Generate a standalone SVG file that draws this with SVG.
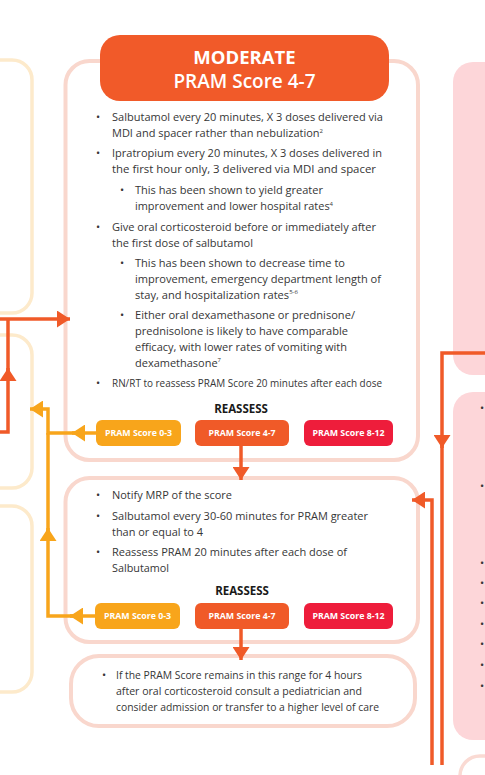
<svg xmlns="http://www.w3.org/2000/svg" width="485" height="775" viewBox="0 0 485 775">
<style>
.yb{fill:none;stroke:#FDEACB;stroke-width:3.5}
.pb{fill:#fff;stroke:#F9D7CD;stroke-width:4}
.pf{fill:#FDD6D9}
.t{font-family:"Open Sans","Liberation Sans",sans-serif;font-size:11px;fill:#363636}
.btn{font-family:"Open Sans","Liberation Sans",sans-serif;font-size:8.8px;font-weight:700;fill:#fff;text-anchor:middle}
.rs{font-family:"Open Sans","Liberation Sans",sans-serif;font-size:11.5px;font-weight:700;fill:#1a1a1a;text-anchor:middle}
.hd{font-family:"Open Sans","Liberation Sans",sans-serif;fill:#fff;text-anchor:middle}
.sup{font-size:6px}
.co{fill:none;stroke:#F05A28;stroke-width:3.5;stroke-linejoin:miter}
.cy{fill:none;stroke:#F8A51B;stroke-width:3.5;stroke-linejoin:miter}
</style>
<defs>
<marker id="ao" viewBox="0 0 13 17" refX="13" refY="8.5" markerWidth="13" markerHeight="17" markerUnits="userSpaceOnUse" orient="auto"><path d="M0,0 L13,8.5 L0,17 z" fill="#F05A28"/></marker>
<marker id="ay" viewBox="0 0 13 17" refX="13" refY="8.5" markerWidth="13" markerHeight="17" markerUnits="userSpaceOnUse" orient="auto"><path d="M0,0 L13,8.5 L0,17 z" fill="#F8A51B"/></marker>
</defs>
<rect width="485" height="775" fill="#fff"/>

<g id="left-boxes">
<rect class="yb" x="-40" y="60" width="72" height="253" rx="20"/>
<rect class="yb" x="-40" y="335" width="72" height="153" rx="20"/>
<rect class="yb" x="-40" y="506" width="72" height="186" rx="20"/>
</g>

<g id="right-boxes">
<rect class="pf" x="453" y="62" width="60" height="313" rx="20"/>
<rect class="pf" x="453" y="392" width="60" height="348" rx="20"/>
<rect x="460" y="756" width="60" height="60" rx="20" fill="none" stroke="#FADAD3" stroke-width="3.5"/>
<g class="t">
<text x="480" y="411.5">•</text>
<text x="480" y="489.5">•</text>
<text x="480" y="566.5">•</text>
<text x="480" y="586.5">•</text>
<text x="480" y="606.5">•</text>
<text x="480" y="627.5">•</text>
<text x="480" y="647.5">•</text>
<text x="480" y="668.5">•</text>
<text x="480" y="689.5">•</text>
</g>
</g>

<g id="box-moderate">
<rect class="pb" x="65.5" y="61" width="352.5" height="399" rx="24"/>
<g class="t" lengthAdjust="spacingAndGlyphs">
<text x="96" y="120.5">•</text><text x="112" y="120.5" textLength="271" lengthAdjust="spacingAndGlyphs">Salbutamol every 20 minutes, X 3 doses delivered via</text>
<text x="112" y="137" textLength="211" lengthAdjust="spacingAndGlyphs">MDI and spacer rather than nebulization<tspan class="sup" dy="-4.5">2</tspan></text>
<text x="96" y="157">•</text><text x="112" y="157" textLength="270" lengthAdjust="spacingAndGlyphs">Ipratropium every 20 minutes, X 3 doses delivered in</text>
<text x="112" y="173" textLength="264" lengthAdjust="spacingAndGlyphs">the first hour only, 3 delivered via MDI and spacer</text>
<text x="120" y="194">•</text><text x="135" y="194" textLength="188" lengthAdjust="spacingAndGlyphs">This has been shown to yield greater</text>
<text x="135" y="210" textLength="198" lengthAdjust="spacingAndGlyphs">improvement and lower hospital rates<tspan class="sup" dy="-4.5">4</tspan></text>
<text x="96" y="231">•</text><text x="112" y="231" textLength="264" lengthAdjust="spacingAndGlyphs">Give oral corticosteroid before or immediately after</text>
<text x="112" y="247" textLength="141" lengthAdjust="spacingAndGlyphs">the first dose of salbutamol</text>
<text x="120" y="267">•</text><text x="135" y="267" textLength="210" lengthAdjust="spacingAndGlyphs">This has been shown to decrease time to</text>
<text x="135" y="282.5" textLength="246" lengthAdjust="spacingAndGlyphs">improvement, emergency department length of</text>
<text x="135" y="298.5" textLength="163" lengthAdjust="spacingAndGlyphs">stay, and hospitalization rates<tspan class="sup" dy="-4.5">5-6</tspan></text>
<text x="120" y="319">•</text><text x="135" y="319" textLength="220" lengthAdjust="spacingAndGlyphs">Either oral dexamethasone or prednisone/</text>
<text x="135" y="335" textLength="213" lengthAdjust="spacingAndGlyphs">prednisolone is likely to have comparable</text>
<text x="135" y="351" textLength="212" lengthAdjust="spacingAndGlyphs">efficacy, with lower rates of vomiting with</text>
<text x="135" y="366.5" textLength="86" lengthAdjust="spacingAndGlyphs">dexamethasone<tspan class="sup" dy="-4.5">7</tspan></text>
<text x="96" y="387">•</text><text x="112" y="387" textLength="270" lengthAdjust="spacingAndGlyphs">RN/RT to reassess PRAM Score 20 minutes after each dose</text>
</g>
<text class="rs" x="241" y="412.5">REASSESS</text>
<rect x="96" y="420" width="85" height="26" rx="6" fill="#F8A51B"/>
<text class="btn" x="138.5" y="436.2">PRAM Score 0-3</text>
<rect x="195" y="420" width="94" height="26" rx="6" fill="#F05A28"/>
<text class="btn" x="242" y="436.2">PRAM Score 4-7</text>
<rect x="304" y="420" width="89" height="26" rx="6" fill="#EE1D3B"/>
<text class="btn" x="348.5" y="436.2">PRAM Score 8-12</text>
</g>

<g id="header">
<rect x="100" y="35" width="289" height="66" rx="20" fill="#F15A29"/>
<text class="hd" x="244.5" y="64.3" font-size="18.5" font-weight="700">MODERATE</text>
<text class="hd" x="244.5" y="88" font-size="19" font-weight="600">PRAM Score 4-7</text>
</g>

<g id="box-continue">
<rect class="pb" x="65.5" y="478" width="352.5" height="164" rx="24"/>
<g class="t">
<text x="96" y="499">•</text><text x="112" y="499" textLength="120" lengthAdjust="spacingAndGlyphs">Notify MRP of the score</text>
<text x="96" y="519.5">•</text><text x="112" y="519.5" textLength="256" lengthAdjust="spacingAndGlyphs">Salbutamol every 30-60 minutes for PRAM greater</text>
<text x="112" y="535.5" textLength="91" lengthAdjust="spacingAndGlyphs">than or equal to 4</text>
<text x="96" y="556">•</text><text x="112" y="556" textLength="235" lengthAdjust="spacingAndGlyphs">Reassess PRAM 20 minutes after each dose of</text>
<text x="112" y="572" textLength="57" lengthAdjust="spacingAndGlyphs">Salbutamol</text>
</g>
<text class="rs" x="242" y="595">REASSESS</text>
<rect x="95" y="603" width="85" height="26" rx="6" fill="#F8A51B"/>
<text class="btn" x="137.5" y="619.2">PRAM Score 0-3</text>
<rect x="195" y="603" width="94" height="26" rx="6" fill="#F05A28"/>
<text class="btn" x="242" y="619.2">PRAM Score 4-7</text>
<rect x="304" y="603" width="89" height="26" rx="6" fill="#EE1D3B"/>
<text class="btn" x="348.5" y="619.2">PRAM Score 8-12</text>
</g>

<g id="box-consult">
<rect class="pb" x="71" y="656" width="344" height="70" rx="28"/>
<g class="t">
<text x="102" y="679">•</text>
<text x="116" y="679" textLength="246" lengthAdjust="spacingAndGlyphs">If the PRAM Score remains in this range for 4 hours</text>
<text x="116" y="695" textLength="246" lengthAdjust="spacingAndGlyphs">after oral corticosteroid consult a pediatrician and</text>
<text x="116" y="711" textLength="263" lengthAdjust="spacingAndGlyphs">consider admission or transfer to a higher level of care</text>
</g>
</g>

<g id="connectors">
<path class="co" d="M0,319 H70" marker-end="url(#ao)"/>
<path class="co" d="M0,432 H8 V368" marker-end="url(#ao)"/>
<path class="co" d="M8,372 V319"/>
<path class="co" d="M241,446 V480" marker-end="url(#ao)"/>
<path class="co" d="M241,629 V660" marker-end="url(#ao)"/>
<path class="co" d="M485,353 H442 V448" marker-end="url(#ao)"/>
<path class="co" d="M442,444 V765"/>
<path class="co" d="M432,765 V500 H412" marker-end="url(#ao)"/>
<path class="cy" d="M96,433 H72" marker-end="url(#ay)"/>
<path class="cy" d="M76,433 H48 V409 H30" marker-end="url(#ay)"/>
<path class="cy" d="M95,616 H70" marker-end="url(#ay)"/>
<path class="cy" d="M74,616 H48 V528" marker-end="url(#ay)"/>
<path class="cy" d="M48,532 V433"/>
</g>
</svg>
